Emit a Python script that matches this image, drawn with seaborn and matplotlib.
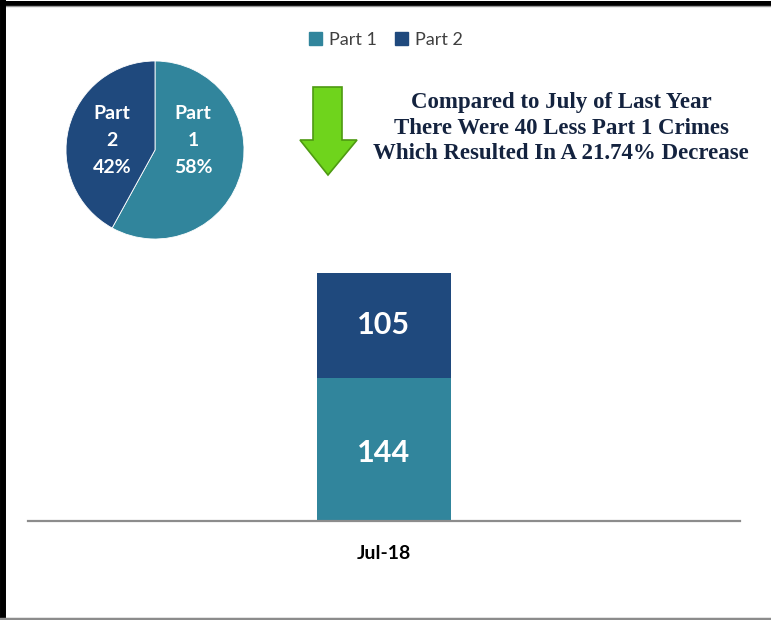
import pandas as pd
import matplotlib.pyplot as plt
import seaborn as sns
from matplotlib.patches import Polygon, Rectangle
from matplotlib.lines import Line2D

# Data
month = ['Jul-18']
part1 = [144]
part2 = [105]
pie_labels = ['Part\n1\n58%', 'Part\n2\n42%']
pie_share = [58, 42]
note = ('Compared to July of Last Year\n'
        'There Were 40 Less Part 1 Crimes\n'
        'Which Resulted In A 21.74% Decrease')

teal = '#31859C'
navy = '#1F497D'

sns.set_style('white')
plt.rcParams['font.family'] = ['Lato', 'DejaVu Sans']

W, H = 771, 620
fig = plt.figure(figsize=(W / 100, H / 100), dpi=100)


def fx(px):
    return px / W


def fy(py):
    return 1 - py / H


df = pd.DataFrame({'month': month, 'part1': part1, 'part2': part2})
df['total'] = df['part1'] + df['part2']

# stacked bar: total in navy, part 1 on top in teal
ax = fig.add_axes([fx(28), fy(521), fx(740) - fx(28), fy(273) - fy(521)])
sns.barplot(ax=ax, data=df, x='month', y='total', color=navy, width=0.188,
            saturation=1, linewidth=0)
sns.barplot(ax=ax, data=df, x='month', y='part1', color=teal, width=0.188,
            saturation=1, linewidth=0)
ax.set_xlim(-0.5, 0.5)
ax.set_ylim(0, df['total'].max())
for s in ['top', 'right', 'left']:
    ax.spines[s].set_visible(False)
ax.spines['bottom'].set_color('#8c8c8c')
ax.spines['bottom'].set_linewidth(1.6)
ax.set_yticks([])
ax.set_xlabel('')
ax.set_ylabel('')
ax.tick_params(axis='x', length=0, pad=17)
for t in ax.get_xticklabels():
    t.set_fontsize(14)
    t.set_fontweight('bold')
    t.set_color('black')
ax.patch.set_alpha(0)

for i, row in df.iterrows():
    ax.text(i, row['part1'] / 2 - 4, str(row['part1']), ha='center', va='center',
            color='white', fontsize=22, fontweight='bold')
    ax.text(i, row['part1'] + row['part2'] / 2, str(row['part2']),
            ha='center', va='center', color='white', fontsize=22,
            fontweight='bold')

# pie
r = 89
pax = fig.add_axes([fx(155 - r), fy(150 + r), fx(2 * r), fy(150 - r) - fy(150 + r)])
pax.pie(pie_share, colors=[teal, navy], startangle=90, counterclock=False,
        wedgeprops=dict(edgecolor='white', linewidth=0.6))
pax.set_xlim(-1, 1)
pax.set_ylim(-1, 1)
pax.set_aspect('auto')
pax.text(0.43, 0.11, pie_labels[0], ha='center', va='center', color='white',
         fontsize=14, fontweight='bold', linespacing=1.7)
pax.text(-0.48, 0.11, pie_labels[1], ha='center', va='center', color='white',
         fontsize=14, fontweight='bold', linespacing=1.7)

# legend
handles = [Rectangle((0, 0), 1, 1, color=teal), Rectangle((0, 0), 1, 1, color=navy)]
fig.legend(handles, ['Part 1', 'Part 2'], loc='center', bbox_to_anchor=(fx(386), fy(40)),
           ncol=2, frameon=False, fontsize=13, handlelength=0.7, handleheight=0.7,
           handletextpad=0.4, columnspacing=1.0, labelcolor='#404040')

# green arrow
pts = [(313, 87), (342, 87), (342, 140), (357, 140), (328, 175), (300, 140), (313, 140)]
fig.patches.append(Polygon([(fx(x), fy(y)) for x, y in pts], closed=True,
                           transform=fig.transFigure, facecolor='#6fd41c',
                           edgecolor='#4e9a12', linewidth=1.2))

# note
fig.text(fx(561), fy(128), note, ha='center', va='center', fontsize=16.5,
         fontweight='bold', color='#14233f', family=['Liberation Serif', 'DejaVu Serif'],
         linespacing=1.3)

# frame
fig.add_artist(Line2D([0, 1], [fy(2.5), fy(2.5)], color='black', lw=3.6))
fig.add_artist(Line2D([0, 1], [fy(6), fy(6)], color='#9a9a9a', lw=1))
fig.add_artist(Line2D([fx(3), fx(3)], [0, 1], color='black', lw=4.3))
fig.add_artist(Line2D([0, 1], [fy(619), fy(619)], color='#8c8c8c', lw=2.5))

fig.savefig('out.png', dpi=100)
